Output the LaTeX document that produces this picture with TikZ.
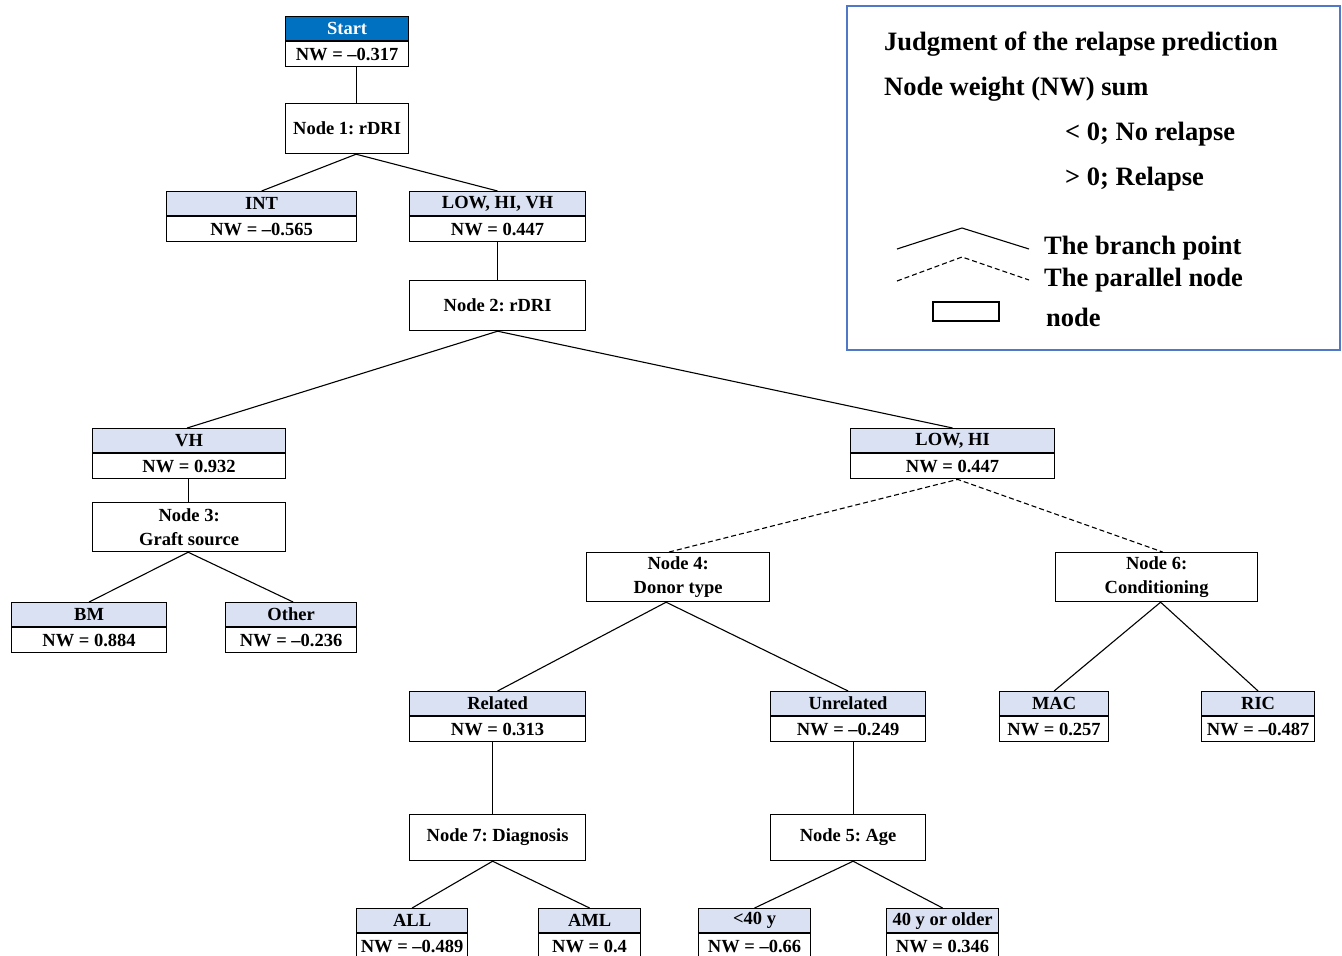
\documentclass[tikz,border=0pt]{standalone}
\usepackage{fontspec}
\setmainfont{Liberation Serif}
\usetikzlibrary{calc}
\frenchspacing
\definecolor{hdrfill}{RGB}{217,225,242}
\definecolor{startblue}{RGB}{0,112,192}
\definecolor{legendblue}{RGB}{80,120,200}
\tikzset{
  box/.style={draw=black, line width=1.2pt, rectangle, inner sep=0pt, font=\bfseries\fontsize{18.5}{24}\selectfont, align=center},
  hdr/.style={box, fill=hdrfill, minimum height=24pt},
  nwbox/.style={box, fill=white, minimum height=25pt},
  plainbox/.style={box, fill=white, minimum height=50pt},
  edge/.style={line width=1.1pt},
  dedge/.style={line width=1.1pt, dash pattern=on 5pt off 3pt},
  legtext/.style={font=\bfseries\fontsize{26.5}{30}\selectfont, anchor=west, inner sep=0pt},
}
\newcommand\twobox[6]{%
  \node[hdr, minimum width={(#3)-(#2)}, anchor=north west] (#1h) at (#2,#4) {#5};
  \node[nwbox, minimum width={(#3)-(#2)}, anchor=north] (#1) at (#1h.south) {#6};
}
\newcommand\onebox[6]{%
  \node[plainbox, minimum width={(#3)-(#2)}, minimum height={#5}, anchor=north west] (#1) at (#2,#4) {#6};
}
\begin{document}
\begin{tikzpicture}[x=1pt,y=-1pt]
\useasboundingbox (0,0) rectangle (1342,956);
\clip (0,0) rectangle (1342,956);
\fill[white] (0,0) rectangle (1342,956);

% Start
\node[hdr, fill=startblue, text=white, minimum width=123, anchor=north west] (starth) at (285,16) {Start};
\node[nwbox, minimum width=123, anchor=north] (start) at (starth.south) {NW = --0.317};

\onebox{n1}{285}{408}{103}{50}{Node 1: rDRI}
\twobox{int}{166}{356}{191}{INT}{NW = --0.565}
\twobox{lhv}{409}{585}{191}{LOW, HI, VH}{NW = 0.447}
\onebox{n2}{409}{585}{280}{50}{Node 2: rDRI}
\twobox{vh}{92}{285}{428}{VH}{NW = 0.932}
\twobox{lh}{850}{1054}{428}{LOW, HI}{NW = 0.447}
\onebox{n3}{92}{285}{502}{49}{Node 3:\\Graft source}
\twobox{bm}{11}{166}{602}{BM}{NW = 0.884}
\twobox{oth}{225}{356}{602}{Other}{NW = --0.236}
\onebox{n4}{586}{769}{552}{49}{Node 4:\\Donor type}
\onebox{n6}{1055}{1257}{552}{49}{Node 6:\\Conditioning}
\twobox{rel}{409}{585}{691}{Related}{NW = 0.313}
\twobox{unr}{770}{925}{691}{Unrelated}{NW = --0.249}
\twobox{mac}{999}{1108}{691}{MAC}{NW = 0.257}
\twobox{ric}{1201}{1314}{691}{RIC}{NW = --0.487}
\onebox{n7}{409}{585}{814}{46}{Node 7: Diagnosis}
\onebox{n5}{770}{925}{814}{46}{Node 5: Age}
\twobox{all}{356}{467}{908}{ALL}{NW = --0.489}
\twobox{aml}{538}{640}{908}{AML}{NW = 0.4}
\twobox{young}{698}{810}{908}{<40 y}{NW = --0.66}
\twobox{old}{886}{998}{908}{40 y or older}{NW = 0.346}

% connectors
\draw[edge] ($(start.south)+(9,0)$) -- ($(n1.north)+(9,0)$);
\draw[edge] (inth.north) -- ($(n1.south)+(9,0)$) -- (lhvh.north);
\draw[edge] (lhv.south) -- (n2.north);
\draw[edge] ($(vhh.north)+(-2,0)$) -- (n2.south) -- (lhh.north);
\draw[edge] ($(vh.south)+(-1,0)$) -- ($(n3.north)+(-1,0)$);
\draw[edge] (bmh.north) -- ($(n3.south)+(-1,0)$) -- ($(othh.north)+(2,0)$);
\draw[dedge] ($(n4.north)+(-9,0)$) -- ($(lh.south)+(5,0)$) -- ($(n6.north)+(6,0)$);
\draw[edge] (relh.north) -- ($(n4.south)+(-12,0)$) -- (unrh.north);
\draw[edge] (mach.north) -- ($(n6.south)+(4,0)$) -- (rich.north);
\draw[edge] ($(rel.south)+(-5,0)$) -- ($(n7.north)+(-5,0)$);
\draw[edge] ($(unr.south)+(5,0)$) -- ($(n5.north)+(5,0)$);
\draw[edge] (allh.north) -- ($(n7.south)+(-5,0)$) -- (amlh.north);
\draw[edge] (youngh.north) -- ($(n5.south)+(5,0)$) -- (oldh.north);

% legend
\draw[legendblue, line width=1.6pt] (847,6) rectangle (1340,350);
\node[legtext] (lg1) at (884,44) {Judgment of the relapse prediction};
\node[legtext] (lg2) at (884,89) {Node weight (NW) sum};
\node[legtext] (lg3) at (1065,134) {< 0; No relapse};
\node[legtext] (lg4) at (1065,179) {> 0; Relapse};
\node[legtext] (lg5) at (1044,248) {The branch point};
\node[legtext] (lg6) at (1044,280) {The parallel node};
\node[legtext] (lg7) at (1046,317) {node};
\draw[edge] (897,249) -- (962,228) -- (1029,249);
\draw[dedge] (897,281) -- (962,257) -- (1029,280);
\draw[line width=1.2pt] (933,302) rectangle (999,321);
\end{tikzpicture}
\end{document}
